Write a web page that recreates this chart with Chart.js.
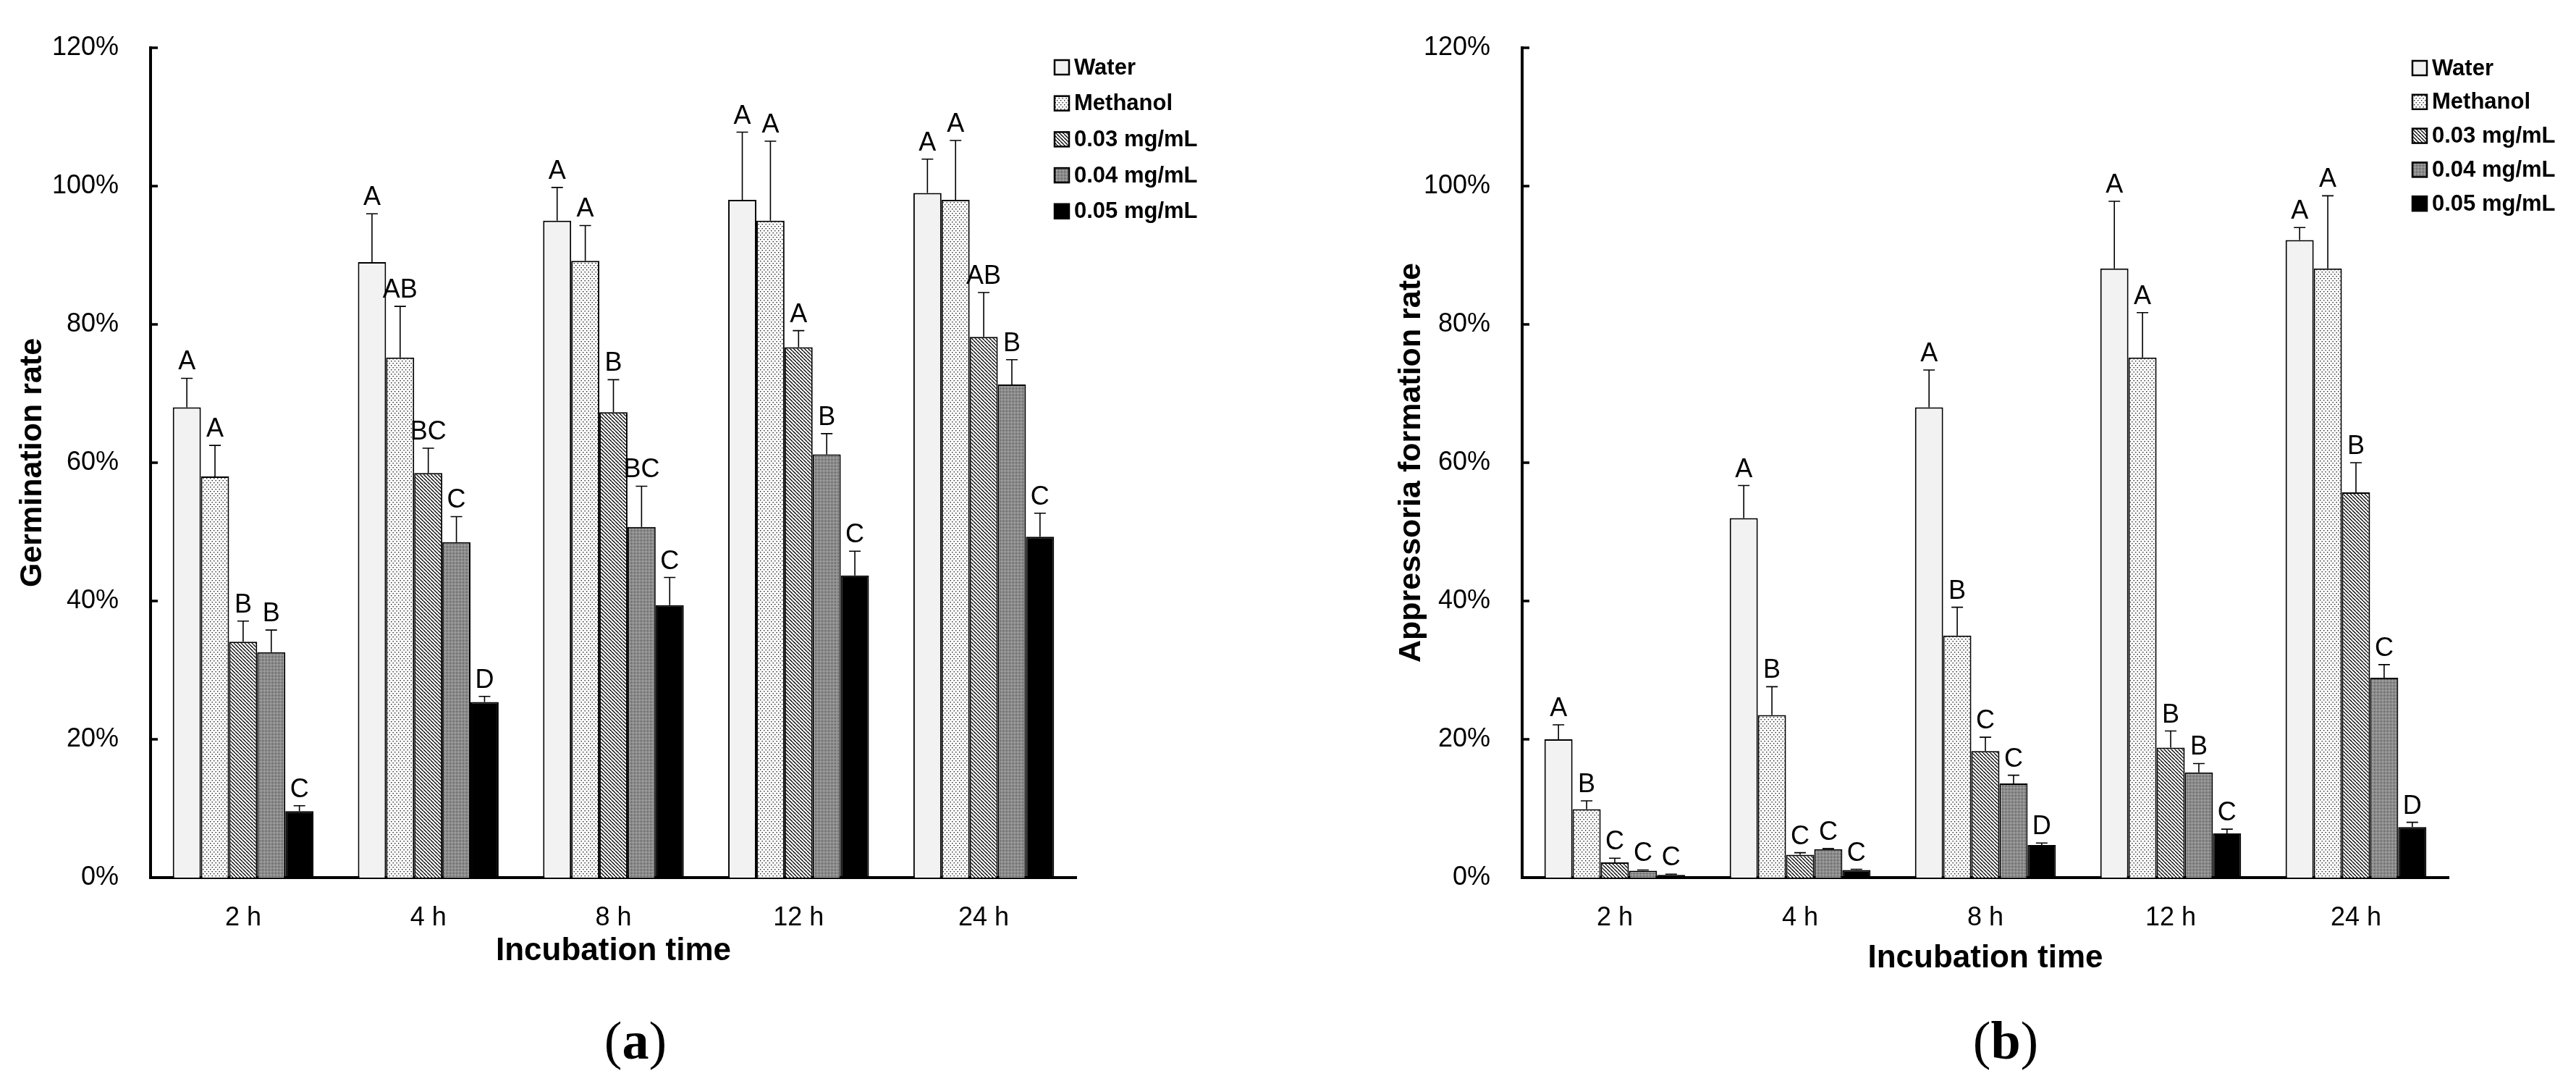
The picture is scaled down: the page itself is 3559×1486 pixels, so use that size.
<!DOCTYPE html>
<html lang="en">
<head>
  <meta charset="UTF-8" />
  <title>Germination and appressoria formation</title>
  <script src="https://cdn.jsdelivr.net/npm/chart.js"></script>
  <style>
    html, body { margin: 0; padding: 0; background: #fff; }
    body { width: 3559px; height: 1486px; position: relative; overflow: hidden; }
    .panel { position: absolute; top: 0; height: 1486px; }
    .tag { position: absolute; width: 200px; text-align: center;
           font-family: "Liberation Serif", "Times New Roman", serif;
           font-size: 74px; line-height: 74px; color: #000; }
    .tag b { font-weight: bold; }
  </style>
</head>
<body>

<div class="panel" style="left:0; width:1780px;"><canvas id="chartA"></canvas></div>
<div class="panel" style="left:1780px; width:1779px;"><canvas id="chartB"></canvas></div>
<div class="tag" style="left:778px; top:1400px;">(<b>a</b>)</div>
<div class="tag" style="left:2671px; top:1400px;">(<b>b</b>)</div>

<script>
// categories and series
const times = ['2 h', '4 h', '8 h', '12 h', '24 h'];
const treatments = ['Water', 'Methanol', '0.03 mg/mL', '0.04 mg/mL', '0.05 mg/mL'];
const yTicks = [0, 20, 40, 60, 80, 100, 120];

// (a) germination rate, %  (one row per treatment)
const germMean = [
  [68, 89, 95, 98, 99],
  [58, 75.2, 89.2, 95, 98],
  [34.1, 58.5, 67.3, 76.7, 78.2],
  [32.6, 48.5, 50.7, 61.2, 71.3],
  [9.6, 25.4, 39.4, 43.7, 49.3]
];
const germErr = [
  [4.2, 7, 4.8, 9.8, 4.9],
  [4.5, 7.4, 5.1, 11.5, 8.6],
  [3, 3.6, 4.7, 2.4, 6.4],
  [3.2, 3.7, 5.9, 3, 3.6],
  [0.8, 0.8, 4, 3.5, 3.4]
];
const germLetters = [
  ['A', 'A', 'A', 'A', 'A'],
  ['A', 'AB', 'A', 'A', 'A'],
  ['B', 'BC', 'B', 'A', 'AB'],
  ['B', 'C', 'BC', 'B', 'B'],
  ['C', 'D', 'C', 'C', 'C']
];

// (b) appressoria formation rate, %
const appMean = [
  [20, 52, 68, 88.1, 92.2],
  [9.9, 23.5, 35, 75.2, 88.1],
  [2.2, 3.3, 18.3, 18.8, 55.7],
  [1, 4.1, 13.6, 15.2, 28.9],
  [0.4, 1.1, 4.7, 6.4, 7.3]
];
const appErr = [
  [2.1, 4.7, 5.4, 9.7, 1.8],
  [1.2, 4.1, 4.1, 6.5, 10.5],
  [0.6, 0.3, 2, 2.4, 4.3],
  [0.1, 0.1, 1.2, 1.3, 1.9],
  [0.1, 0.1, 0.3, 0.6, 0.7]
];
const appLetters = [
  ['A', 'A', 'A', 'A', 'A'],
  ['B', 'B', 'B', 'A', 'A'],
  ['C', 'C', 'C', 'B', 'B'],
  ['C', 'C', 'C', 'B', 'C'],
  ['C', 'C', 'D', 'C', 'D']
];

const SANS = '"Liberation Sans", Arial, Helvetica, sans-serif';

// fill patterns imitating the greyscale bar textures
function makePattern(w, h, draw) {
  const c = document.createElement('canvas');
  c.width = w; c.height = h;
  const g = c.getContext('2d');
  draw(g, w, h);
  return g.createPattern(c, 'repeat');
}

const fills = [
  '#f2f2f2',
  makePattern(5, 6, (g) => {
    g.fillStyle = '#fff'; g.fillRect(0, 0, 5, 6);
    g.fillStyle = '#222';
    g.fillRect(0, 0, 1.4, 1.4);
    g.fillRect(2.5, 3, 1.4, 1.4);
  }),
  makePattern(5, 5, (g) => {
    g.fillStyle = '#fff'; g.fillRect(0, 0, 5, 5);
    g.strokeStyle = '#000'; g.lineWidth = 1.3;
    g.beginPath();
    [-5, 0, 5].forEach(k => { g.moveTo(k, 0); g.lineTo(k + 5, 5); });
    g.stroke();
  }),
  makePattern(2, 2, (g) => {
    g.fillStyle = '#b8b8b8'; g.fillRect(0, 0, 2, 2);
    g.fillStyle = '#000'; g.fillRect(0, 0, 1, 1);
  }),
  '#000'
];

// inward tick marks, upper error bars, significance letters and legend
const decorPlugin = {
  id: 'decor',
  afterDatasetsDraw(chart, args, opts) {
    const ctx = chart.ctx;
    const y = chart.scales.y;
    const area = chart.chartArea;
    ctx.save();

    // y ticks pointing into the plot
    ctx.strokeStyle = '#000';
    ctx.lineWidth = 3.5;
    yTicks.forEach(v => {
      const py = y.getPixelForValue(v);
      ctx.beginPath();
      ctx.moveTo(area.left, py);
      ctx.lineTo(area.left + 10, py);
      ctx.stroke();
    });

    // error bars + letters
    ctx.font = '36px ' + SANS;
    ctx.fillStyle = '#000';
    ctx.textAlign = 'center';
    ctx.textBaseline = 'alphabetic';
    chart.data.datasets.forEach((ds, i) => {
      const meta = chart.getDatasetMeta(i);
      meta.data.forEach((bar, j) => {
        const top = y.getPixelForValue(ds.data[j] + opts.err[i][j]);
        ctx.lineWidth = 1.6;
        ctx.beginPath();
        ctx.moveTo(bar.x, bar.y);
        ctx.lineTo(bar.x, top);
        ctx.moveTo(bar.x - 8, top);
        ctx.lineTo(bar.x + 8, top);
        ctx.stroke();
        ctx.fillText(opts.letters[i][j], bar.x, top - 12);
      });
    });

    // legend
    const lg = opts.legend;
    ctx.font = 'bold 31px ' + SANS;
    ctx.textAlign = 'left';
    ctx.textBaseline = 'middle';
    chart.data.datasets.forEach((ds, i) => {
      const cy = lg.y + i * lg.gap;
      ctx.fillStyle = ds.backgroundColor;
      ctx.fillRect(lg.x, cy - 10, 20, 20);
      ctx.lineWidth = 2.5;
      ctx.strokeStyle = '#000';
      ctx.strokeRect(lg.x, cy - 10, 20, 20);
      ctx.fillStyle = '#000';
      ctx.fillText(ds.label, lg.x + 27, cy + 1);
    });
    ctx.restore();
  }
};

function buildChart(id, means, errs, letters, yTitle, cfg) {
  const datasets = treatments.map((name, i) => ({
    label: name,
    data: means[i],
    backgroundColor: fills[i],
    borderColor: '#000',
    borderWidth: 2,
    borderSkipped: 'bottom',
    categoryPercentage: 0.76,
    barPercentage: 1.0
  }));

  return new Chart(document.getElementById(id), {
    type: 'bar',
    data: { labels: times, datasets: datasets },
    plugins: [decorPlugin],
    options: {
      responsive: true,
      maintainAspectRatio: false,
      animation: false,
      layout: { padding: { left: 0, top: 66, right: cfg.padRight, bottom: 0 } },
      plugins: {
        legend: { display: false },
        tooltip: { enabled: false },
        decor: { err: errs, letters: letters, legend: cfg.legend }
      },
      scales: {
        x: {
          grid: { display: false },
          border: { color: '#000', width: 4 },
          ticks: { color: '#000', padding: 26, font: { family: SANS, size: 36 } },
          title: {
            display: true, text: 'Incubation time', color: '#000',
            font: { family: SANS, size: 44, weight: 'bold' },
            padding: { top: 0, bottom: cfg.xTitlePad }
          },
          afterFit(s) { s.height = 274; }
        },
        y: {
          min: 0, max: 120,
          grid: { display: false },
          border: { color: '#000', width: 4 },
          ticks: {
            stepSize: 20, color: '#000', padding: 36,
            font: { family: SANS, size: 36 },
            callback: v => v + '%'
          },
          title: {
            display: true, text: yTitle, color: '#000',
            font: { family: SANS, size: 43, weight: 'bold' },
            padding: { top: cfg.yTitlePad, bottom: 0 }
          },
          afterFit(s) { s.width = cfg.yWidth; }
        }
      }
    }
  });
}

buildChart('chartA', germMean, germErr, germLetters, 'Germination rate', {
  padRight: 293, yWidth: 208, yTitlePad: 19, xTitlePad: 146,
  legend: { x: 1457, y: 93, gap: 49.7 }
});

buildChart('chartB', appMean, appErr, appLetters, 'Appressoria formation rate', {
  padRight: 176, yWidth: 323, yTitlePad: 144, xTitlePad: 136,
  legend: { x: 1553, y: 94, gap: 46.8 }
});
</script>

</body>
</html>
